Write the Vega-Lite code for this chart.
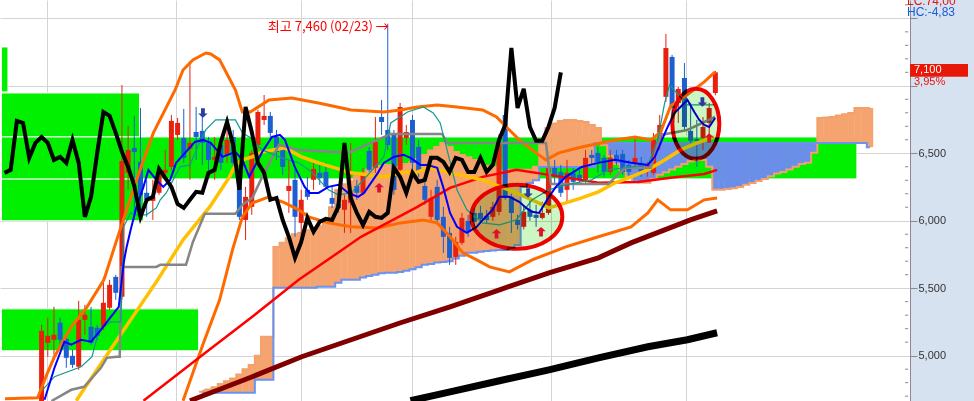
{
"$schema":"https://vega.github.io/schema/vega-lite/v6.json",
"width":910,"height":401,
"autosize":{"type":"none"},
"padding":{"left":0,"top":0,"right":64,"bottom":0},
"background":"#d6e2f0",
"config":{"view":{"fill":"#ffffff","stroke":null}},
"datasets":{
"zones":[{"k1":-6.5,"k2":-5.44,"p1":6955,"p2":7288},{"k1":-6.5,"k2":15.84,"p1":6621,"p2":6947},{"k1":-6.5,"k2":16.48,"p1":5999,"p2":6310},{"k1":-6.5,"k2":25.4,"p1":5036,"p2":5347},{"k1":-6.5,"k2":131.9,"p1":6310,"p2":6621}],
"minor":[{"p":4700},{"p":4800},{"p":4900},{"p":5100},{"p":5200},{"p":5300},{"p":5400},{"p":5600},{"p":5700},{"p":5800},{"p":5900},{"p":6100},{"p":6200},{"p":6300},{"p":6400},{"p":6600},{"p":6700},{"p":6800},{"p":6900},{"p":7100},{"p":7200},{"p":7300},{"p":7400},{"p":7600}],
"cloud":[{"k":26,"a":4740,"b":4725},{"k":27,"a":4750,"b":4725},{"k":28,"a":4765,"b":4725},{"k":29,"a":4790,"b":4725},{"k":30,"a":4810,"b":4725},{"k":31,"a":4830,"b":4725},{"k":32,"a":4860,"b":4725},{"k":33,"a":4900,"b":4725},{"k":34,"a":4930,"b":4725},{"k":35,"a":5000,"b":4821},{"k":36,"a":5140,"b":4821},{"k":37,"a":5140,"b":4821},{"k":38,"a":5806,"b":5503},{"k":39,"a":5836,"b":5503},{"k":40,"a":5870,"b":5503},{"k":41,"a":5900,"b":5503},{"k":42,"a":5910,"b":5503},{"k":43,"a":5930,"b":5503},{"k":44,"a":5950,"b":5503},{"k":45,"a":5960,"b":5510},{"k":46,"a":6006,"b":5510},{"k":47,"a":6100,"b":5510},{"k":48,"a":6229,"b":5540},{"k":49,"a":6270,"b":5562},{"k":50,"a":6290,"b":5562},{"k":51,"a":6330,"b":5562},{"k":52,"a":6355,"b":5580},{"k":53,"a":6380,"b":5590},{"k":54,"a":6392,"b":5600},{"k":55,"a":6405,"b":5610},{"k":56,"a":6414,"b":5614},{"k":57,"a":6350,"b":5614},{"k":58,"a":6399,"b":5620},{"k":59,"a":6420,"b":5630},{"k":60,"a":6436,"b":5640},{"k":61,"a":6460,"b":5655},{"k":62,"a":6488,"b":5673},{"k":63,"a":6520,"b":5680},{"k":64,"a":6547,"b":5690},{"k":65,"a":6577,"b":5695},{"k":66,"a":6547,"b":5700},{"k":67,"a":6510,"b":5720},{"k":68,"a":6488,"b":5740},{"k":69,"a":6470,"b":5762},{"k":70,"a":6451,"b":5762},{"k":71,"a":6430,"b":5770},{"k":72,"a":6405,"b":5775},{"k":73,"a":6399,"b":5780},{"k":74,"a":6370,"b":5784},{"k":75,"a":6355,"b":5784},{"k":76,"a":6377,"b":5800},{"k":77,"a":6377,"b":5820},{"k":78,"a":6377,"b":6250},{"k":79,"a":6377,"b":6280},{"k":80,"a":6400,"b":6300},{"k":81,"a":6599,"b":6399},{"k":82,"a":6688,"b":6399},{"k":83,"a":6720,"b":6399},{"k":84,"a":6740,"b":6399},{"k":85,"a":6747,"b":6399},{"k":86,"a":6747,"b":6399},{"k":87,"a":6740,"b":6399},{"k":88,"a":6732,"b":6399},{"k":89,"a":6710,"b":6399},{"k":90,"a":6688,"b":6577},{"k":91,"a":6560,"b":6577},{"k":92,"a":6480,"b":6577},{"k":93,"a":6420,"b":6577},{"k":94,"a":6377,"b":6577},{"k":95,"a":6330,"b":6577},{"k":96,"a":6288,"b":6577},{"k":97,"a":6283,"b":6577},{"k":98,"a":6281,"b":6577},{"k":99,"a":6310,"b":6577},{"k":100,"a":6340,"b":6577},{"k":101,"a":6360,"b":6577},{"k":102,"a":6380,"b":6577},{"k":103,"a":6400,"b":6577},{"k":104,"a":6420,"b":6577},{"k":105,"a":6440,"b":6577},{"k":106,"a":6451,"b":6577},{"k":107,"a":6451,"b":6577},{"k":108,"a":6400,"b":6577},{"k":109,"a":6229,"b":6577},{"k":110,"a":6229,"b":6577},{"k":111,"a":6235,"b":6577},{"k":112,"a":6240,"b":6577},{"k":113,"a":6250,"b":6577},{"k":114,"a":6266,"b":6577},{"k":115,"a":6280,"b":6577},{"k":116,"a":6295,"b":6577},{"k":117,"a":6310,"b":6577},{"k":118,"a":6330,"b":6577},{"k":119,"a":6350,"b":6577},{"k":120,"a":6362,"b":6577},{"k":121,"a":6380,"b":6577},{"k":122,"a":6400,"b":6577},{"k":123,"a":6420,"b":6577},{"k":124,"a":6429,"b":6577},{"k":125,"a":6503,"b":6577},{"k":126,"a":6762,"b":6577},{"k":127,"a":6765,"b":6577},{"k":128,"a":6769,"b":6577},{"k":129,"a":6780,"b":6577},{"k":130,"a":6790,"b":6577},{"k":131,"a":6799,"b":6577},{"k":132,"a":6836,"b":6577},{"k":133,"a":6836,"b":6577},{"k":134,"a":6836,"b":6545}],
"candles":[{"k":0,"o":4650,"h":5229,"l":4630,"c":5184},{"k":1,"o":5095,"h":5281,"l":4992,"c":5147},{"k":2,"o":5118,"h":5362,"l":5007,"c":5155},{"k":3,"o":5244,"h":5281,"l":5081,"c":5118},{"k":4,"o":5125,"h":5155,"l":4910,"c":4984},{"k":5,"o":4999,"h":5044,"l":4910,"c":4932},{"k":6,"o":4918,"h":5406,"l":4895,"c":5266},{"k":7,"o":5266,"h":5377,"l":5155,"c":5303},{"k":8,"o":5214,"h":5362,"l":5081,"c":5095},{"k":9,"o":5207,"h":5229,"l":5118,"c":5147},{"k":10,"o":5214,"h":5584,"l":5192,"c":5392},{"k":11,"o":5355,"h":5562,"l":5340,"c":5525},{"k":12,"o":5584,"h":5599,"l":5414,"c":5466},{"k":13,"o":5436,"h":7006,"l":5414,"c":6443},{"k":14,"o":6355,"h":6703,"l":6229,"c":6525},{"k":15,"o":6540,"h":6777,"l":6006,"c":6510},{"k":16,"o":6436,"h":6836,"l":6006,"c":6192},{"k":17,"o":6207,"h":6303,"l":6029,"c":6155},{"k":18,"o":6147,"h":6303,"l":6006,"c":6177},{"k":19,"o":6207,"h":6392,"l":6192,"c":6355},{"k":20,"o":6355,"h":6525,"l":6303,"c":6377},{"k":21,"o":6399,"h":6784,"l":6377,"c":6740},{"k":22,"o":6636,"h":6762,"l":6599,"c":6725},{"k":23,"o":6614,"h":6829,"l":6429,"c":6466},{"k":24,"o":6532,"h":7184,"l":6303,"c":6577},{"k":25,"o":6658,"h":6843,"l":6451,"c":6621},{"k":26,"o":6666,"h":6784,"l":6414,"c":6577},{"k":27,"o":6577,"h":6621,"l":6355,"c":6451},{"k":28,"o":6451,"h":6621,"l":6303,"c":6473},{"k":29,"o":6562,"h":6599,"l":6377,"c":6429},{"k":30,"o":6488,"h":6695,"l":6429,"c":6599},{"k":31,"o":6621,"h":6673,"l":6377,"c":6429},{"k":32,"o":6340,"h":6414,"l":6006,"c":6029},{"k":33,"o":6006,"h":6251,"l":5858,"c":6177},{"k":34,"o":6103,"h":6525,"l":6044,"c":6503},{"k":35,"o":6562,"h":6821,"l":6525,"c":6806},{"k":36,"o":6747,"h":6932,"l":6710,"c":6777},{"k":37,"o":6777,"h":6806,"l":6599,"c":6651},{"k":38,"o":6621,"h":6673,"l":6451,"c":6510},{"k":39,"o":6525,"h":6562,"l":6340,"c":6399},{"k":40,"o":6221,"h":6451,"l":6058,"c":6258},{"k":41,"o":6303,"h":6377,"l":5881,"c":6029},{"k":42,"o":5984,"h":6229,"l":5807,"c":6155},{"k":43,"o":6229,"h":6325,"l":6155,"c":6177},{"k":44,"o":6303,"h":6451,"l":6229,"c":6384},{"k":45,"o":6355,"h":6414,"l":6266,"c":6318},{"k":46,"o":6362,"h":6429,"l":6243,"c":6251},{"k":47,"o":6169,"h":6251,"l":6095,"c":6125},{"k":48,"o":6125,"h":6229,"l":6058,"c":6095},{"k":49,"o":6081,"h":6192,"l":5910,"c":6155},{"k":50,"o":6132,"h":6577,"l":5910,"c":6214},{"k":51,"o":6258,"h":6303,"l":6155,"c":6207},{"k":52,"o":6207,"h":6392,"l":6192,"c":6355},{"k":53,"o":6518,"h":6547,"l":6362,"c":6377},{"k":54,"o":6392,"h":6769,"l":6355,"c":6584},{"k":55,"o":6769,"h":6895,"l":6636,"c":6732},{"k":56,"o":6673,"h":7460,"l":6525,"c":6562},{"k":57,"o":6636,"h":6673,"l":6192,"c":6229},{"k":58,"o":6377,"h":6873,"l":6355,"c":6843},{"k":59,"o":6614,"h":6710,"l":6562,"c":6658},{"k":60,"o":6747,"h":6784,"l":6377,"c":6429},{"k":61,"o":6547,"h":6599,"l":6325,"c":6355},{"k":62,"o":6258,"h":6303,"l":6118,"c":6155},{"k":63,"o":6029,"h":6229,"l":6006,"c":6169},{"k":64,"o":6251,"h":6303,"l":5969,"c":6006},{"k":65,"o":6029,"h":6103,"l":5762,"c":5881},{"k":66,"o":5910,"h":5955,"l":5673,"c":5725},{"k":67,"o":5732,"h":5881,"l":5673,"c":5843},{"k":68,"o":5836,"h":6058,"l":5821,"c":6021},{"k":69,"o":5999,"h":6044,"l":5880,"c":5918},{"k":70,"o":6058,"h":6090,"l":5960,"c":5992},{"k":71,"o":6058,"h":6110,"l":5980,"c":6014},{"k":72,"o":6036,"h":6080,"l":5985,"c":6006},{"k":73,"o":6029,"h":6140,"l":6000,"c":6103},{"k":74,"o":6066,"h":6640,"l":6040,"c":6577},{"k":75,"o":6784,"h":6836,"l":6155,"c":6169},{"k":76,"o":6177,"h":6200,"l":5910,"c":6058},{"k":77,"o":6006,"h":6044,"l":5935,"c":5969},{"k":78,"o":5955,"h":6110,"l":5935,"c":6066},{"k":79,"o":6081,"h":6155,"l":6000,"c":6029},{"k":80,"o":6044,"h":6118,"l":5955,"c":6021},{"k":81,"o":6021,"h":6140,"l":6010,"c":6058},{"k":82,"o":6058,"h":6414,"l":6044,"c":6392},{"k":83,"o":6392,"h":6451,"l":6266,"c":6325},{"k":84,"o":6362,"h":6414,"l":6177,"c":6207},{"k":85,"o":6229,"h":6451,"l":6132,"c":6355},{"k":86,"o":6355,"h":6392,"l":6229,"c":6288},{"k":87,"o":6340,"h":6392,"l":6266,"c":6303},{"k":88,"o":6303,"h":6525,"l":6280,"c":6466},{"k":89,"o":6488,"h":6525,"l":6414,"c":6466},{"k":90,"o":6503,"h":6547,"l":6355,"c":6436},{"k":91,"o":6466,"h":6488,"l":6325,"c":6362},{"k":92,"o":6362,"h":6525,"l":6340,"c":6466},{"k":93,"o":6488,"h":6525,"l":6414,"c":6451},{"k":94,"o":6495,"h":6525,"l":6340,"c":6362},{"k":95,"o":6414,"h":6451,"l":6318,"c":6362},{"k":96,"o":6429,"h":6621,"l":6399,"c":6466},{"k":97,"o":6429,"h":6473,"l":6325,"c":6362},{"k":98,"o":6377,"h":6436,"l":6325,"c":6414},{"k":99,"o":6355,"h":6650,"l":6340,"c":6599},{"k":100,"o":6599,"h":6784,"l":6525,"c":6710},{"k":101,"o":6918,"h":7384,"l":6880,"c":7280},{"k":102,"o":7214,"h":7229,"l":6769,"c":6836},{"k":103,"o":6873,"h":6992,"l":6725,"c":6977},{"k":104,"o":7058,"h":7169,"l":6673,"c":6695},{"k":105,"o":6666,"h":6873,"l":6577,"c":6592},{"k":106,"o":6606,"h":6747,"l":6399,"c":6592},{"k":107,"o":6614,"h":6769,"l":6525,"c":6695},{"k":108,"o":6725,"h":6873,"l":6584,"c":6836},{"k":109,"o":6947,"h":7110,"l":6930,"c":7100}],
"ma5":[{"k":0.48,"v":4673},{"k":2.08,"v":4910},{"k":3.68,"v":5103},{"k":4.8,"v":5081},{"k":6.4,"v":5118},{"k":8.0,"v":5103},{"k":9.6,"v":5192},{"k":11.2,"v":5288},{"k":12.48,"v":5362},{"k":13.28,"v":5688},{"k":13.76,"v":5806},{"k":14.4,"v":5932},{"k":15.36,"v":6103},{"k":16.48,"v":6251},{"k":17.28,"v":6377},{"k":18.56,"v":6303},{"k":19.68,"v":6251},{"k":20.8,"v":6303},{"k":21.76,"v":6429},{"k":23.36,"v":6510},{"k":24.8,"v":6584},{"k":26.08,"v":6599},{"k":27.36,"v":6577},{"k":29.28,"v":6473},{"k":31.36,"v":6510},{"k":32.48,"v":6451},{"k":33.6,"v":6325},{"k":35.68,"v":6510},{"k":37.28,"v":6621},{"k":38.56,"v":6636},{"k":39.36,"v":6599},{"k":40.96,"v":6399},{"k":42.56,"v":6251},{"k":43.36,"v":6206},{"k":44.8,"v":6206},{"k":46.4,"v":6251},{"k":48.0,"v":6266},{"k":49.6,"v":6206},{"k":51.2,"v":6177},{"k":52.16,"v":6206},{"k":54.4,"v":6355},{"k":55.36,"v":6429},{"k":56.96,"v":6473},{"k":58.56,"v":6488},{"k":59.68,"v":6466},{"k":61.28,"v":6414},{"k":62.4,"v":6414},{"k":64.0,"v":6392},{"k":64.96,"v":6251},{"k":66.08,"v":6058},{"k":67.2,"v":5955},{"k":68.8,"v":5910},{"k":70.4,"v":5955},{"k":71.36,"v":6006},{"k":72.96,"v":6081},{"k":74.08,"v":6177},{"k":75.68,"v":6177},{"k":77.28,"v":6140},{"k":78.4,"v":6095},{"k":79.36,"v":6066},{"k":80.48,"v":6058},{"k":82.08,"v":6177},{"k":83.2,"v":6251},{"k":84.8,"v":6325},{"k":87.36,"v":6399},{"k":90.08,"v":6429},{"k":92.8,"v":6451},{"k":95.36,"v":6429},{"k":98.08,"v":6414},{"k":99.2,"v":6473},{"k":100.16,"v":6577},{"k":101.28,"v":6695},{"k":102.4,"v":6799},{"k":103.36,"v":6843},{"k":104.48,"v":6895},{"k":105.6,"v":6806},{"k":106.4,"v":6747},{"k":107.2,"v":6710},{"k":108.0,"v":6695},{"k":108.96,"v":6762}],
"tenkan":[{"k":0.16,"v":4747},{"k":2.08,"v":4844},{"k":6.4,"v":4918},{"k":8.16,"v":4992},{"k":9.28,"v":5192},{"k":11.2,"v":5251},{"k":12.8,"v":5251},{"k":13.28,"v":5955},{"k":14.4,"v":6058},{"k":15.36,"v":6044},{"k":16.96,"v":6044},{"k":18.56,"v":6095},{"k":19.2,"v":6155},{"k":20.16,"v":6206},{"k":21.28,"v":6303},{"k":22.4,"v":6399},{"k":24.0,"v":6414},{"k":25.6,"v":6584},{"k":26.56,"v":6673},{"k":28.16,"v":6747},{"k":31.36,"v":6747},{"k":32.48,"v":6651},{"k":33.6,"v":6621},{"k":35.68,"v":6525},{"k":38.88,"v":6466},{"k":41.6,"v":6429},{"k":43.68,"v":6362},{"k":46.4,"v":6229},{"k":48.0,"v":6192},{"k":50.08,"v":6206},{"k":52.8,"v":6340},{"k":55.36,"v":6473},{"k":56.48,"v":6725},{"k":59.2,"v":6806},{"k":61.76,"v":6843},{"k":63.36,"v":6799},{"k":64.48,"v":6725},{"k":65.6,"v":6525},{"k":67.2,"v":6229},{"k":68.8,"v":6081},{"k":71.36,"v":5984},{"k":74.08,"v":5969},{"k":76.8,"v":6006},{"k":79.36,"v":6155},{"k":82.08,"v":6229},{"k":84.8,"v":6266},{"k":88.96,"v":6303},{"k":91.68,"v":6377},{"k":94.4,"v":6392},{"k":98.08,"v":6414},{"k":99.68,"v":6599},{"k":100.8,"v":6873},{"k":101.6,"v":7006},{"k":104.48,"v":6858},{"k":108.8,"v":6858}],
"kijun":[{"k":1.6,"v":4664},{"k":4.8,"v":4747},{"k":6.88,"v":4769},{"k":9.6,"v":4910},{"k":10.56,"v":4984},{"k":12.16,"v":4992},{"k":12.64,"v":4992},{"k":12.96,"v":5658},{"k":18.56,"v":5658},{"k":19.2,"v":5673},{"k":23.36,"v":5673},{"k":24.48,"v":5843},{"k":26.4,"v":6051},{"k":31.36,"v":6051},{"k":32.48,"v":6118},{"k":34.08,"v":6169},{"k":35.68,"v":6325},{"k":38.4,"v":6562},{"k":41.6,"v":6525},{"k":49.6,"v":6503},{"k":56.48,"v":6643},{"k":64.8,"v":6643},{"k":65.6,"v":6577},{"k":81.6,"v":6577},{"k":82.4,"v":6273},{"k":91.68,"v":6273},{"k":94.4,"v":6392},{"k":98.56,"v":6392},{"k":100.16,"v":6636},{"k":104.48,"v":6673},{"k":108.96,"v":6769}],
"ma20":[{"k":5.6,"v":4666},{"k":11.68,"v":5081},{"k":18.56,"v":5547},{"k":22.88,"v":5858},{"k":27.2,"v":6103},{"k":30.4,"v":6325},{"k":31.36,"v":6414},{"k":32.48,"v":6451},{"k":34.08,"v":6473},{"k":35.68,"v":6510},{"k":39.36,"v":6540},{"k":42.08,"v":6473},{"k":44.8,"v":6429},{"k":50.08,"v":6355},{"k":55.36,"v":6325},{"k":58.08,"v":6355},{"k":60.8,"v":6362},{"k":62.88,"v":6392},{"k":66.08,"v":6355},{"k":71.36,"v":6303},{"k":76.8,"v":6206},{"k":79.36,"v":6155},{"k":82.08,"v":6095},{"k":84.8,"v":6132},{"k":87.36,"v":6169},{"k":90.08,"v":6214},{"k":92.8,"v":6281},{"k":95.36,"v":6325},{"k":98.08,"v":6377},{"k":100.8,"v":6451},{"k":103.36,"v":6525},{"k":106.08,"v":6577},{"k":108.8,"v":6621}],
"ma60":[{"k":16.48,"v":4666},{"k":26.08,"v":5007},{"k":34.08,"v":5288},{"k":41.6,"v":5562},{"k":51.68,"v":5881},{"k":60.8,"v":6103},{"k":66.08,"v":6244},{"k":71.36,"v":6325},{"k":76.8,"v":6377},{"k":82.08,"v":6340},{"k":90.08,"v":6281},{"k":96.48,"v":6288},{"k":101.76,"v":6318},{"k":107.2,"v":6347},{"k":109.28,"v":6377}],
"ma120":[{"k":24.0,"v":4666},{"k":34.08,"v":4844},{"k":42.08,"v":4992},{"k":50.08,"v":5118},{"k":58.08,"v":5244},{"k":66.08,"v":5362},{"k":74.08,"v":5488},{"k":82.08,"v":5614},{"k":90.08,"v":5725},{"k":95.36,"v":5836},{"k":100.8,"v":5932},{"k":104.96,"v":6006},{"k":109.28,"v":6073}],
"ma240":[{"k":59.68,"v":4666},{"k":66.08,"v":4732},{"k":74.08,"v":4814},{"k":82.08,"v":4895},{"k":90.08,"v":4984},{"k":98.08,"v":5066},{"k":104.48,"v":5118},{"k":109.28,"v":5170}],
"bbu":[{"k":-5.92,"v":4681},{"k":-0.64,"v":4688},{"k":0.96,"v":4873},{"k":2.08,"v":4992},{"k":4.8,"v":5214},{"k":7.36,"v":5362},{"k":10.08,"v":5562},{"k":12.16,"v":5858},{"k":15.36,"v":6303},{"k":18.08,"v":6651},{"k":21.6,"v":6969},{"k":22.88,"v":7117},{"k":24.48,"v":7192},{"k":26.56,"v":7243},{"k":27.36,"v":7236},{"k":28.8,"v":7192},{"k":31.36,"v":6969},{"k":32.48,"v":6806},{"k":33.76,"v":6806},{"k":36.8,"v":6895},{"k":40.48,"v":6910},{"k":44.8,"v":6873},{"k":50.08,"v":6821},{"k":55.36,"v":6806},{"k":58.08,"v":6821},{"k":60.8,"v":6843},{"k":64.0,"v":6858},{"k":67.2,"v":6843},{"k":71.36,"v":6821},{"k":73.6,"v":6769},{"k":75.2,"v":6695},{"k":77.28,"v":6599},{"k":80.0,"v":6503},{"k":81.6,"v":6451},{"k":83.68,"v":6503},{"k":87.36,"v":6547},{"k":92.8,"v":6599},{"k":96.0,"v":6621},{"k":98.56,"v":6599},{"k":100.16,"v":6658},{"k":101.76,"v":6851},{"k":104.0,"v":6918},{"k":107.2,"v":7029},{"k":108.96,"v":7103}],
"bbl":[{"k":22.88,"v":4666},{"k":26.08,"v":5081},{"k":28.8,"v":5414},{"k":30.88,"v":5784},{"k":32.48,"v":6029},{"k":34.08,"v":6132},{"k":36.8,"v":6177},{"k":39.36,"v":6132},{"k":41.6,"v":6081},{"k":43.2,"v":6029},{"k":46.4,"v":5984},{"k":50.08,"v":5955},{"k":54.4,"v":5947},{"k":58.08,"v":5984},{"k":61.76,"v":6006},{"k":64.0,"v":5984},{"k":66.08,"v":5881},{"k":68.16,"v":5762},{"k":70.4,"v":5710},{"k":72.48,"v":5658},{"k":75.68,"v":5621},{"k":79.36,"v":5710},{"k":84.8,"v":5806},{"k":90.08,"v":5881},{"k":95.36,"v":5955},{"k":98.08,"v":6058},{"k":99.68,"v":6155},{"k":101.76,"v":6081},{"k":104.48,"v":6081},{"k":107.2,"v":6155},{"k":109.28,"v":6169}],
"lag":[{"k":-6,"v":6355},{"k":-5,"v":6377},{"k":-4,"v":6740},{"k":-3,"v":6725},{"k":-2,"v":6466},{"k":-1,"v":6577},{"k":0,"v":6621},{"k":1,"v":6577},{"k":2,"v":6451},{"k":3,"v":6473},{"k":4,"v":6429},{"k":5,"v":6599},{"k":6,"v":6429},{"k":7,"v":6029},{"k":8,"v":6177},{"k":9,"v":6503},{"k":10,"v":6806},{"k":11,"v":6777},{"k":12,"v":6651},{"k":13,"v":6510},{"k":14,"v":6399},{"k":15,"v":6258},{"k":16,"v":6029},{"k":17,"v":6155},{"k":18,"v":6177},{"k":19,"v":6384},{"k":20,"v":6318},{"k":21,"v":6251},{"k":22,"v":6125},{"k":23,"v":6095},{"k":24,"v":6155},{"k":25,"v":6214},{"k":26,"v":6207},{"k":27,"v":6355},{"k":28,"v":6377},{"k":29,"v":6584},{"k":30,"v":6732},{"k":31,"v":6562},{"k":32,"v":6229},{"k":33,"v":6843},{"k":34,"v":6658},{"k":35,"v":6429},{"k":36,"v":6355},{"k":37,"v":6155},{"k":38,"v":6169},{"k":39,"v":6006},{"k":40,"v":5881},{"k":41,"v":5725},{"k":42,"v":5843},{"k":43,"v":6021},{"k":44,"v":5918},{"k":45,"v":5992},{"k":46,"v":6014},{"k":47,"v":6006},{"k":48,"v":6103},{"k":49,"v":6577},{"k":50,"v":6169},{"k":51,"v":6058},{"k":52,"v":5969},{"k":53,"v":6066},{"k":54,"v":6029},{"k":55,"v":6021},{"k":56,"v":6058},{"k":57,"v":6392},{"k":58,"v":6325},{"k":59,"v":6207},{"k":60,"v":6355},{"k":61,"v":6288},{"k":62,"v":6303},{"k":63,"v":6466},{"k":64,"v":6466},{"k":65,"v":6436},{"k":66,"v":6362},{"k":67,"v":6466},{"k":68,"v":6451},{"k":69,"v":6362},{"k":70,"v":6362},{"k":71,"v":6466},{"k":72,"v":6362},{"k":73,"v":6414},{"k":74,"v":6599},{"k":75,"v":6710},{"k":76,"v":7280},{"k":77,"v":6836},{"k":78,"v":6977},{"k":79,"v":6695},{"k":80,"v":6592},{"k":81,"v":6592},{"k":82,"v":6695},{"k":83,"v":6836},{"k":84,"v":7100}],
"ellipses":[{"k":76.88,"p":6029,"e":"wide"},{"k":105.84,"p":6718,"e":"tall"}],
"arrows":[{"k":26.1,"p":6799,"d":"down"},{"k":54.6,"p":6244,"d":"up"},{"k":73.6,"p":5903,"d":"up"},{"k":78.7,"p":6206,"d":"down"},{"k":80.8,"p":5918,"d":"up"},{"k":106.9,"p":6880,"d":"down"},{"k":108.0,"p":6614,"d":"up"}],
"high":[{"k":56,"p":7460,"t":"최고 7,460 (02/23) →"}],
"last":[{"p":7100,"t":"7,100","pct":"3,95%"}]
},
"layer":[
{"data":{"name":"zones"},"mark":{"type":"rect","fill":"#00f000","stroke":"#ffffff","strokeWidth":1},
 "encoding":{
  "x":{"field":"k1","type":"quantitative","scale":{"domain":[-5.92,139.68],"nice":false,"zero":false},
       "axis":{"title":null,"values":[0.8,21.76,41.92,60.0,82.4,104.32],"grid":true,"gridColor":"#d4d4d4","labels":false,"ticks":false,"domain":false}},
  "x2":{"field":"k2"},
  "y":{"field":"p1","type":"quantitative","scale":{"domain":[4664,7636],"nice":false,"zero":false},
       "axis":{"title":null,"orient":"right","values":[5000,5500,6000,6500,7000,7500],
        "grid":true,"gridColor":"#d4d4d4","tickSize":7,"tickColor":"#8a8a8a","domainColor":"#8a8a8a",
        "labelExpr":"datum.value < 7000 ? datum.label : ''",
        "format":",d","labelFont":"Liberation Sans","labelFontSize":11,"labelColor":"#333333","labelPadding":1,"labelOverlap":false,"labelBound":false,"labelFlush":false}},
  "y2":{"field":"p2"}}},
{"data":{"name":"minor"},"mark":{"type":"rule","color":"#8a8a8a","strokeWidth":1},
 "encoding":{"x":{"datum":139.68,"type":"quantitative"},"x2":{"datum":140.2},"y":{"field":"p","type":"quantitative"}}},
{"data":{"name":"cloud"},"mark":{"type":"bar","size":6.6},
 "encoding":{"x":{"field":"k","type":"quantitative"},"y":{"field":"a","type":"quantitative"},"y2":{"field":"b"},
  "color":{"condition":{"test":"datum.a >= datum.b","value":"#f5a46f"},"value":"#6b8fe9"}}},
{"data":{"name":"cloud"},"mark":{"type":"line","interpolate":"step","color":"#f3a06c","strokeWidth":2},
 "encoding":{"x":{"field":"k","type":"quantitative"},"y":{"field":"a","type":"quantitative"}}},
{"data":{"name":"cloud"},"mark":{"type":"line","interpolate":"step","color":"#6a92f2","strokeWidth":2},
 "encoding":{"x":{"field":"k","type":"quantitative"},"y":{"field":"b","type":"quantitative"}}},
{"data":{"name":"candles"},"mark":{"type":"rule","strokeWidth":1},
 "encoding":{"x":{"field":"k","type":"quantitative"},"y":{"field":"l","type":"quantitative"},"y2":{"field":"h"},
  "color":{"condition":{"test":"datum.c >= datum.o","value":"#e8200e"},"value":"#1c5fd0"}}},
{"data":{"name":"candles"},"mark":{"type":"bar","size":5},
 "encoding":{"x":{"field":"k","type":"quantitative"},"y":{"field":"o","type":"quantitative"},"y2":{"field":"c"},
  "color":{"condition":{"test":"datum.c >= datum.o","value":"#e8200e"},"value":"#1c5fd0"}}},
{"data":{"name":"bbu"},"mark":{"type":"line","color":"#ff6a00","strokeWidth":3},"encoding":{"x":{"field":"k","type":"quantitative"},"y":{"field":"v","type":"quantitative"}}},
{"data":{"name":"bbl"},"mark":{"type":"line","color":"#ff6a00","strokeWidth":3},"encoding":{"x":{"field":"k","type":"quantitative"},"y":{"field":"v","type":"quantitative"}}},
{"data":{"name":"ma120"},"mark":{"type":"line","color":"#800000","strokeWidth":5},"encoding":{"x":{"field":"k","type":"quantitative"},"y":{"field":"v","type":"quantitative"}}},
{"data":{"name":"ma240"},"mark":{"type":"line","color":"#000000","strokeWidth":7},"encoding":{"x":{"field":"k","type":"quantitative"},"y":{"field":"v","type":"quantitative"}}},
{"data":{"name":"ma60"},"mark":{"type":"line","color":"#ff0000","strokeWidth":2.5},"encoding":{"x":{"field":"k","type":"quantitative"},"y":{"field":"v","type":"quantitative"}}},
{"data":{"name":"ma20"},"mark":{"type":"line","color":"#ffc000","strokeWidth":3.5},"encoding":{"x":{"field":"k","type":"quantitative"},"y":{"field":"v","type":"quantitative"}}},
{"data":{"name":"kijun"},"mark":{"type":"line","color":"#858585","strokeWidth":2.5},"encoding":{"x":{"field":"k","type":"quantitative"},"y":{"field":"v","type":"quantitative"}}},
{"data":{"name":"tenkan"},"mark":{"type":"line","color":"#12998e","strokeWidth":1.2},"encoding":{"x":{"field":"k","type":"quantitative"},"y":{"field":"v","type":"quantitative"}}},
{"data":{"name":"ma5"},"mark":{"type":"line","color":"#0000ff","strokeWidth":2},"encoding":{"x":{"field":"k","type":"quantitative"},"y":{"field":"v","type":"quantitative"}}},
{"data":{"name":"lag"},"mark":{"type":"line","color":"#000000","strokeWidth":4},"encoding":{"x":{"field":"k","type":"quantitative"},"y":{"field":"v","type":"quantitative"}}},
{"data":{"name":"ellipses"},"transform":[{"filter":"datum.e === 'wide'"}],
 "mark":{"type":"point","shape":"M-1,0A1,0.703 0 1,0 1,0A1,0.703 0 1,0 -1,0Z","size":8281,"filled":true,"fill":"#ccf7c4","stroke":"#f00000","strokeWidth":4,"opacity":1,"blend":"multiply"},
 "encoding":{"x":{"field":"k","type":"quantitative"},"y":{"field":"p","type":"quantitative"}}},
{"data":{"name":"ellipses"},"transform":[{"filter":"datum.e === 'tall'"}],
 "mark":{"type":"point","shape":"M-0.671,0A0.671,1 0 1,0 0.671,0A0.671,1 0 1,0 -0.671,0Z","size":4900,"filled":true,"fill":"#ccf7c4","stroke":"#f00000","strokeWidth":4,"opacity":1,"blend":"multiply"},
 "encoding":{"x":{"field":"k","type":"quantitative"},"y":{"field":"p","type":"quantitative"}}},
{"data":{"name":"arrows"},"transform":[{"filter":"datum.d === 'up'"}],
 "mark":{"type":"point","shape":"M0,-1L1,-0.1L0.4,-0.1L0.4,1L-0.4,1L-0.4,-0.1L-1,-0.1Z","size":90,"filled":true,"color":"#e0102c","opacity":1,"strokeWidth":0},
 "encoding":{"x":{"field":"k","type":"quantitative"},"y":{"field":"p","type":"quantitative"}}},
{"data":{"name":"arrows"},"transform":[{"filter":"datum.d === 'down'"}],
 "mark":{"type":"point","shape":"M0,1L1,0.1L0.4,0.1L0.4,-1L-0.4,-1L-0.4,0.1L-1,0.1Z","size":90,"filled":true,"color":"#2a3c9c","opacity":1,"strokeWidth":0},
 "encoding":{"x":{"field":"k","type":"quantitative"},"y":{"field":"p","type":"quantitative"}}},
{"data":{"name":"high"},"mark":{"type":"text","align":"right","baseline":"middle","dx":1,"dy":3.5,"font":"Noto Sans CJK KR","fontSize":13,"color":"#ff0000"},
 "encoding":{"x":{"field":"k","type":"quantitative"},"y":{"field":"p","type":"quantitative"},"text":{"field":"t"}}},
{"data":{"name":"last"},"mark":{"type":"point","shape":"M0.17,-0.28L2.1,-0.28L2.1,0.15L0.17,0.15Z","size":3600,"filled":true,"color":"#e81808","opacity":1,"strokeWidth":0},
 "encoding":{"x":{"datum":139.68,"type":"quantitative"},"y":{"field":"p","type":"quantitative"}}},
{"data":{"name":"last"},"mark":{"type":"text","align":"left","baseline":"middle","dx":9,"dy":-2,"font":"Liberation Sans","fontSize":11,"color":"#ffffff"},
 "encoding":{"x":{"datum":139.68,"type":"quantitative"},"y":{"field":"p","type":"quantitative"},"text":{"field":"t"}}},
{"data":{"name":"last"},"mark":{"type":"text","align":"left","baseline":"middle","dx":9,"dy":10,"font":"Liberation Sans","fontSize":11,"color":"#e81010"},
 "encoding":{"x":{"datum":139.68,"type":"quantitative"},"y":{"field":"p","type":"quantitative"},"text":{"field":"pct"}}},
{"data":{"values":[{"t":"LC:74,00"}]},"mark":{"type":"text","align":"left","baseline":"middle","dx":2,"font":"Liberation Sans","fontSize":12,"color":"#e81010"},
 "encoding":{"x":{"datum":139.68,"type":"quantitative"},"y":{"datum":7630,"type":"quantitative"},"text":{"field":"t"}}},
{"data":{"values":[{"t":"HC:-4,83"}]},"mark":{"type":"text","align":"left","baseline":"middle","dx":2,"font":"Liberation Sans","fontSize":12,"color":"#1a5cd8"},
 "encoding":{"x":{"datum":139.68,"type":"quantitative"},"y":{"datum":7547,"type":"quantitative"},"text":{"field":"t"}}}
]
}
